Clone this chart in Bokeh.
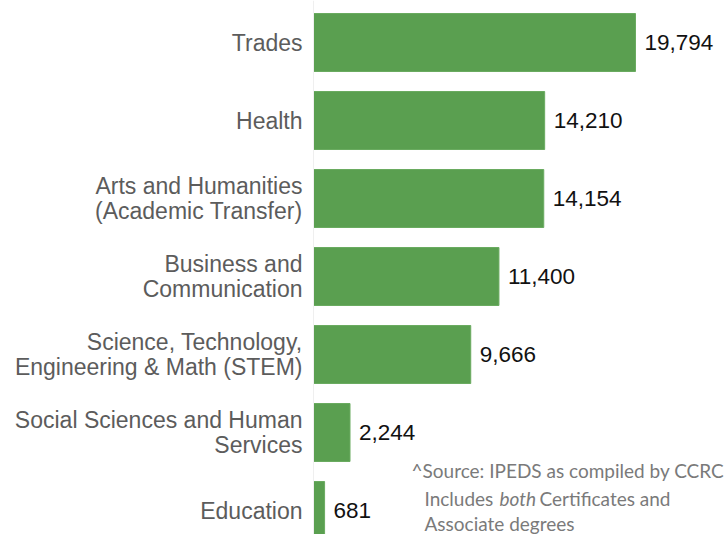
from bokeh.plotting import figure
from bokeh.models import Range1d, ColumnDataSource, Label, Span
from bokeh.core.properties import value
from bokeh.embed import file_html
from bokeh.resources import INLINE

categories = ["Trades", "Health", "Arts and Humanities\n(Academic Transfer)",
              "Business and\nCommunication",
              "Science, Technology,\nEngineering & Math (STEM)",
              "Social Sciences and Human\nServices", "Education"]
values = [19794, 14210, 14154, 11400, 9666, 2244, 681]
value_labels = ["19,794", "14,210", "14,154", "11,400", "9,666", "2,244", "681"]

n = len(categories)
ypos = [n - 1 - i for i in range(n)]

W, H = 727, 534
scale = 322 / 19794.0  # px per unit
x0_px = 313
x_start = -x0_px / scale
x_end = (W - x0_px) / scale
pitch = 78.0
y_end = (n - 1) + 42 / pitch
y_start = -(H - 510) / pitch

src = ColumnDataSource(dict(y=ypos, v=values, cat=categories, lab=value_labels,
                            zero=[0] * n))

p = figure(width=W, height=H, output_backend="svg", toolbar_location=None,
           x_range=Range1d(x_start, x_end), y_range=Range1d(y_start, y_end),
           min_border=0, outline_line_color=None)
p.axis.visible = False
p.grid.visible = False
p.background_fill_color = "white"
p.border_fill_color = "white"

p.add_layout(Span(location=0, dimension="height", line_color="#efefef", line_width=1))

p.hbar(y="y", left=0, right="v", height=58 / pitch, source=src,
       fill_color="#5a9f50", line_color="#6aab60", line_width=1)

p.text(x="v", y="y", text="lab", source=src, x_offset=9,
       text_align="left", text_baseline="middle",
       text_font=value("Liberation Sans"), text_font_size="22.5px",
       text_color="#111111")

p.text(x="zero", y="y", text="cat", source=src, x_offset=-11,
       text_align="right", text_baseline="middle",
       text_font=value("Liberation Sans"), text_font_size="23px",
       text_color="#5c5c5c", text_line_height=0.98)

note_font = "Lato"
note_size = "19px"
note_color = "#7a7a7a"
def note(text, sx, sy, style="normal"):
    p.add_layout(Label(x=sx, y=H - sy, x_units="screen", y_units="screen",
                       text=text, text_font=note_font, text_font_size=note_size,
                       text_color=note_color, text_font_style=style,
                       text_baseline="middle", text_align="left"))

note("^Source: IPEDS as compiled by CCRC", 411, 470)
note("Includes", 424, 498)
note("both", 499, 498, "italic")
note("Certificates and", 539, 498)
note("Associate degrees", 424, 523)

open("out.html", "w").write(file_html(p, INLINE))
